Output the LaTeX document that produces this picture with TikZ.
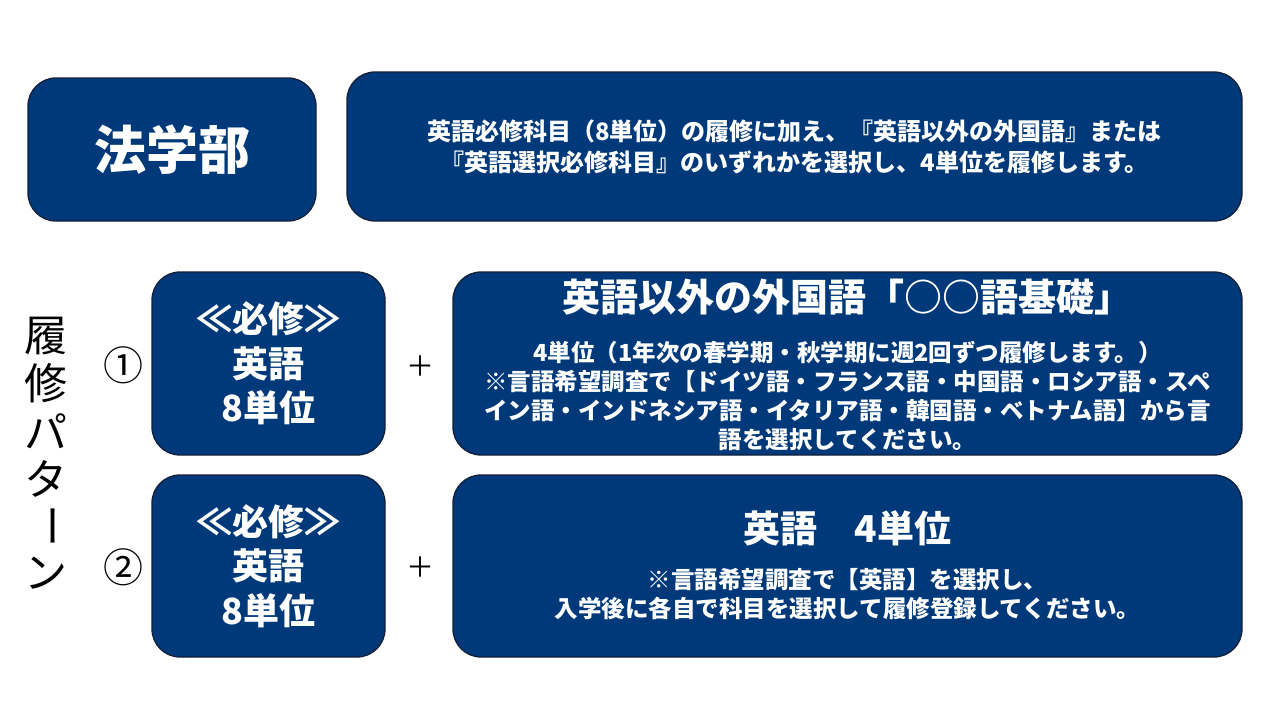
\documentclass[tikz,border=0pt]{standalone}
\usepackage{fontspec}
\setmainfont{Noto Sans CJK JP}
\usetikzlibrary{positioning}
\definecolor{navy}{RGB}{0,57,122}
\definecolor{edgeline}{RGB}{18,32,58}
\newcommand{\fsz}[2]{\fontsize{#1}{#2}\selectfont}
\tikzset{
  panel/.style={draw=edgeline, line width=1.3pt, fill=navy, rounded corners=28pt, inner sep=0pt},
  paneltext/.style={text=white, font=\bfseries\fsz{24}{31}, align=center, inner sep=0pt},
  reqtext/.style={text=white, font=\bfseries\fsz{36}{44.5}, align=center, inner sep=0pt},
  bigtitle/.style={text=white, font=\bfseries\fsz{38}{44}, inner sep=0pt},
  numlabel/.style={font=\fsz{40}{44}, inner sep=0pt},
}
\begin{document}
\begin{tikzpicture}[x=1pt,y=-1pt]
\useasboundingbox (0,0) rectangle (1280,720);
% Faculty row
\node[panel, minimum width=288, minimum height=143] (law) at (172,149.5) {};
\node[text=white, font=\bfseries\fsz{52}{60}, inner sep=0pt] (lawname) at (law) {法学部};
\node[panel, minimum width=895, minimum height=149] (desc) at (794.5,146.5) {};
\node[paneltext] (desctext) at (desc) {英語必修科目（8単位）の履修に加え、『英語以外の外国語』または\\『英語選択必修科目』のいずれかを選択し、4単位を履修します。};
% Vertical label
\foreach \c [count=\i] in {履,修,パ,タ,\rotatebox[origin=c]{-90}{ー},ン}
  \node[font=\fsz{43}{44}, inner sep=0pt] (pat\i) at (46,{288.5+47.5*\i}) {\c};
% Pattern 1
\node[numlabel] (num1) at (123,365) {①};
\node[panel, minimum width=233, minimum height=183] (req1) at (268.5,363.5) {};
\node[reqtext] (req1text) at (req1) {≪必修≫\\英語\\8単位};
\node[numlabel, font=\fsz{28}{30}] (plus1) at (420,366) {＋};
\node[panel, minimum width=789, minimum height=183] (opt1) at (847.5,363.5) {};
\node[bigtitle] (opt1title) at (847.5,297) {英語以外の外国語「○○語基礎」};
\node[paneltext, font=\bfseries\fsz{23.5}{28.8}] (opt1text) at (847.5,396) {4単位（1年次の春学期・秋学期に週2回ずつ履修します。）\\※言語希望調査で【ドイツ語・フランス語・中国語・ロシア語・スペ\\イン語・インドネシア語・イタリア語・韓国語・ベトナム語】から言\\語を選択してください。};
% Pattern 2
\node[numlabel] (num2) at (123,567) {②};
\node[panel, minimum width=233, minimum height=182] (req2) at (268.5,566) {};
\node[reqtext] (req2text) at (req2) {≪必修≫\\英語\\8単位};
\node[numlabel, font=\fsz{28}{30}] (plus2) at (420,567) {＋};
\node[panel, minimum width=789, minimum height=182] (opt2) at (847.5,566) {};
\node[bigtitle, font=\bfseries\fsz{37}{44}] (opt2title) at (847.5,528) {英語　4単位};
\node[paneltext, font=\bfseries\fsz{23.5}{29}] (opt2text) at (847.5,594.5) {※言語希望調査で【英語】を選択し、\\入学後に各自で科目を選択して履修登録してください。};
\end{tikzpicture}
\end{document}
